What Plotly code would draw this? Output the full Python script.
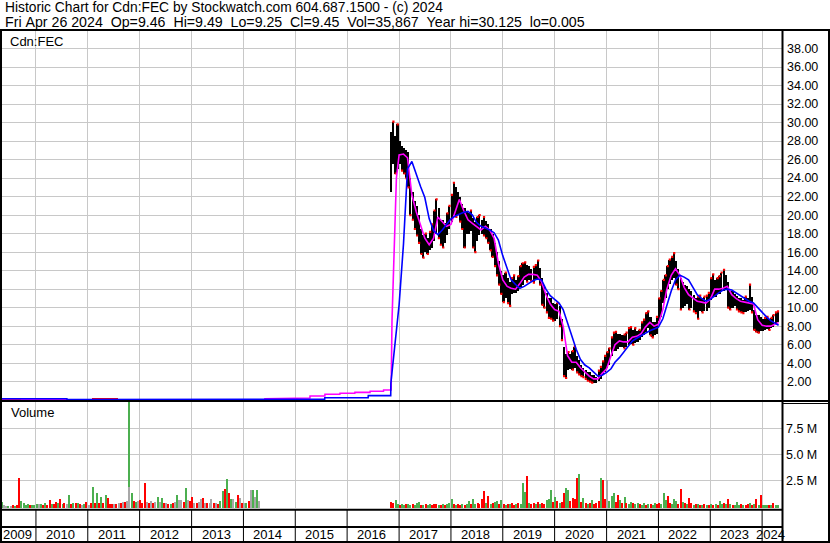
import pandas as pd
import plotly.graph_objects as go

W, H = 830, 543

# ---------------- data ----------------
years = list(range(2009, 2025))
x_start, x_end = "2009-05-07", "2024-05-20"
price_ticks = [2, 4, 6, 8, 10, 12, 14, 16, 18, 20, 22, 24, 26, 28, 30, 32, 34, 36, 38]
vol_ticks = [2.5, 5.0, 7.5]
vol_tick_text = ["2.5 M", "5.0 M", "7.5 M"]

title1 = "Historic Chart for Cdn:FEC by Stockwatch.com 604.687.1500 - (c) 2024"
title2 = "Fri Apr 26 2024  Op=9.46  Hi=9.49  Lo=9.25  Cl=9.45  Vol=35,867  Year hi=30.125  lo=0.005"
symbol = "Cdn:FEC"

# early period, quarterly price range ($), starting mid-2009
early_start = "2009-06-15"
early_high = [0.20, 0.18, 0.16, 0.15, 0.14, 0.15, 0.16, 0.22, 0.20, 0.16,
              0.14, 0.12, 0.12, 0.11, 0.10, 0.10, 0.09, 0.09, 0.08, 0.08]
early_low = [0.02, 0.02, 0.01, 0.01, 0.01, 0.01, 0.02, 0.02, 0.02, 0.01,
             0.01, 0.01, 0.01, 0.01, 0.01, 0.005, 0.005, 0.005, 0.005, 0.005]

# semi-monthly price range from Nov 2016
late_start = "2016-11-01"
price_low = [22.5, 25.5, 24.5, 25.0,
             25.5, 24.8, 24.5, 24.0, 23.0, 20.0, 19.5, 18.5, 17.8, 17.0, 15.8, 15.4,
             16.0, 15.8, 16.2, 16.5, 17.2, 18.0, 17.5, 16.8, 16.5, 17.0, 17.8, 18.5,
             19.3, 20.0, 19.8, 20.0, 19.3, 18.5, 16.5, 18.0, 18.0, 18.3, 16.5, 16.0,
             17.2, 17.8, 18.0, 17.8, 17.5, 17.0, 16.2, 15.5, 14.5, 13.5, 12.5, 11.5,
             10.6, 11.0, 10.5, 10.2, 11.5, 11.6, 11.6, 11.8, 12.2, 12.5, 13.0, 12.8,
             13.0, 12.9, 12.7, 13.0, 13.1, 12.5, 10.3, 10.0, 9.5, 8.9, 8.8, 8.6,
             8.6, 8.8, 8.0, 6.5, 2.6, 2.4, 3.3, 3.4, 3.3, 3.5, 3.0, 2.8,
             2.6, 2.5, 2.3, 2.1, 2.0, 1.9, 1.9, 1.9, 2.1, 2.3, 2.7, 3.0,
             3.5, 3.8, 4.8, 5.3, 5.3, 5.5, 5.7, 5.8, 5.6, 5.8, 6.0, 6.1,
             6.0, 6.2, 6.3, 6.5, 6.8, 7.0, 7.4, 7.8, 7.0, 6.8, 7.0, 7.2,
             8.6, 9.0, 10.5, 11.0, 12.0, 12.6, 13.0, 13.2, 12.5, 12.0, 9.8, 10.0,
             10.2, 10.4, 9.8, 10.0, 9.6, 9.4, 8.8, 9.6, 9.5, 9.6, 9.6, 10.0,
             10.8, 11.2, 11.2, 11.5, 11.5, 11.8, 11.8, 12.0, 10.0, 9.8, 10.0, 10.2,
             9.8, 9.6, 9.5, 9.4, 9.5, 9.6, 9.8, 9.5, 7.6, 7.4, 7.3, 7.5,
             7.5, 7.6, 7.7, 7.6, 7.8, 7.9, 8.2, 8.5]
price_high = [29.0, 30.1, 28.5, 29.8,
              28.0, 27.5, 27.3, 27.0, 26.8, 24.0, 22.5, 21.5, 21.0, 20.0, 18.5, 17.8,
              18.0, 17.5, 18.2, 19.0, 20.5, 21.7, 20.8, 19.5, 19.5, 19.2, 20.2, 21.0,
              22.2, 23.5, 23.0, 22.5, 22.0, 21.2, 20.8, 20.5, 20.2, 20.5, 19.7, 19.3,
              19.8, 20.0, 19.5, 19.8, 19.4, 19.0, 18.5, 18.0, 17.0, 16.0, 15.0, 14.0,
              13.5, 13.8, 13.2, 12.8, 13.2, 13.5, 13.0, 13.4, 14.5, 14.8, 14.9, 14.6,
              14.5, 14.2, 14.4, 14.6, 15.1, 14.3, 13.2, 12.5, 11.6, 11.0, 11.0, 10.5,
              10.4, 10.5, 10.2, 8.8, 5.8, 5.0, 5.2, 5.0, 5.3, 5.8, 4.8, 4.3,
              3.8, 3.5, 3.3, 3.0, 3.0, 2.7, 2.7, 2.5, 3.2, 3.6, 4.2, 4.8,
              5.2, 5.6, 6.8, 7.3, 7.4, 7.2, 7.2, 7.0, 7.1, 7.3, 7.8, 7.9,
              7.6, 7.8, 7.5, 7.6, 8.4, 8.7, 9.4, 9.6, 9.0, 8.5, 8.5, 9.0,
              11.0, 11.8, 13.0, 13.5, 14.5, 15.2, 15.5, 15.9, 15.0, 14.2, 13.2, 12.8,
              12.5, 12.3, 12.0, 11.8, 11.4, 11.0, 11.2, 11.3, 11.0, 11.2, 11.3, 11.6,
              13.2, 13.6, 13.0, 13.2, 13.4, 13.8, 14.1, 13.5, 12.8, 11.8, 11.8, 11.5,
              11.3, 11.0, 11.0, 10.8, 11.2, 11.0, 12.5, 11.2, 9.8, 9.2, 9.2, 9.0,
              8.8, 8.9, 9.0, 8.8, 8.9, 9.2, 9.5, 9.6]

# short moving average (magenta)
mag_head_dates = ["2009-05-07", "2009-09-20", "2009-09-21", "2014-05-31", "2014-06-01",
                  "2014-09-15", "2014-09-16", "2015-04-14", "2015-04-15", "2015-07-28",
                  "2015-07-29", "2015-11-11", "2015-11-12", "2016-02-24", "2016-02-25",
                  "2016-06-10", "2016-06-11", "2016-09-13", "2016-09-14", "2016-11-06",
                  "2016-11-12", "2016-12-01", "2016-12-13"]
mag_head_vals = [0.16, 0.16, 0.05, 0.05, 0.16, 0.16, 0.24, 0.24, 0.45, 0.45,
                 0.64, 0.64, 0.75, 0.75, 0.85, 0.85, 0.96, 0.96, 1.10, 1.10,
                 8.6, 18.6, 24.0]
ma_month_start = "2017-01-01"
mag_monthly = [26.5, 26.6, 26.2, 22.2, 20.4, 18.9, 17.5, 16.8, 17.5, 19.8, 19.3, 18.8,
               19.0, 20.5, 21.7, 20.5, 19.5, 19.1, 18.8, 18.4, 18.8, 18.4, 17.5, 14.8,
               13.0, 12.3, 12.1, 12.0, 12.6, 13.3, 13.6, 13.6, 13.5, 12.8, 11.4, 10.4,
               9.8, 9.6, 8.0, 4.8, 4.1, 4.1, 3.5, 3.0, 2.6, 2.3, 2.3, 2.9,
               3.4, 4.8, 6.0, 6.4, 6.3, 6.3, 6.8, 6.9, 7.2, 7.9, 8.4, 8.0,
               8.2, 9.8, 12.0, 13.5, 14.2, 13.5, 12.2, 11.4, 11.0, 10.7, 10.6, 10.5,
               10.9, 12.0, 12.0, 12.1, 12.3, 11.4, 11.0, 10.7, 10.6, 10.5, 10.4, 8.7,
               8.1, 8.0, 8.0, 8.2]
mag_last_date, mag_last_val = "2024-04-26", 8.4

# long moving average (blue)
blue_head_dates = ["2009-05-07", "2010-08-07", "2010-08-08", "2014-09-14", "2014-09-15",
                   "2015-07-27", "2015-07-28", "2016-05-28", "2016-05-29", "2016-11-03",
                   "2016-11-04", "2016-12-17"]
blue_head_vals = [0.16, 0.16, 0.06, 0.06, 0.12, 0.12, 0.27, 0.27, 0.49, 0.49, 1.83, 8.6]
blue_monthly = [10.3, 16.9, 25.0, 25.8, 24.4, 23.1, 21.9, 19.6, 18.3, 17.9, 18.4, 19.0,
                19.6, 19.9, 20.1, 20.3, 20.4, 20.0, 19.2, 18.8, 18.6, 18.4, 18.1, 17.3,
                15.6, 14.3, 13.0, 12.5, 12.1, 12.3, 12.6, 12.9, 13.1, 13.0, 12.0, 11.3,
                10.9, 10.5, 9.8, 8.4, 6.8, 5.5, 4.4, 3.8, 3.5, 3.1, 2.6, 2.7,
                3.0, 3.4, 4.1, 4.6, 5.2, 5.9, 6.4, 6.7, 7.0, 7.2, 7.5, 7.7,
                7.9, 8.8, 10.2, 11.8, 13.0, 13.5, 13.3, 13.0, 12.2, 11.4, 11.0, 10.7,
                10.9, 11.3, 11.6, 11.9, 12.0, 11.9, 11.6, 11.3, 11.0, 10.7, 10.5, 10.0,
                9.4, 9.0, 8.6, 8.3]
blue_last_date, blue_last_val = "2024-04-26", 8.1

# volume (millions of shares), semi-monthly; g = up, r = down, k = unchanged
vol_early_start = "2009-05-01"
vol_early = [0.4, 0.1, 0.08, 0.05, 0.06, 0.1, 0.08, 0.15, 2.74, 0.5,
             0.3, 0.15, 0.2, 0.1, 0.15, 0.1, 0.25, 0.2, 0.2, 0.15,
             0.3, 0.15, 0.62, 0.2, 0.2, 0.45, 0.3, 0.7, 0.2, 0.3,
             0.2, 1.1, 0.2, 0.35, 0.3, 0.3, 0.2, 0.15, 0.2, 0.4,
             0.15, 0.3, 1.9, 0.35, 1.27, 0.3, 0.9, 0.3, 1.1, 0.8,
             0.2, 0.25, 0.2, 0.2, 0.35, 0.3, 0.45, 0.4, 0.5, 11.0,
             1.3, 0.5, 0.4, 0.5, 0.6, 0.3, 2.26, 0.4, 0.3, 0.5,
             0.35, 0.45, 0.9, 0.4, 0.8, 0.3, 0.3, 0.25, 0.2, 0.3,
             0.4, 1.1, 0.6, 0.6, 0.4, 1.78, 0.6, 0.5, 0.94, 0.3,
             0.3, 0.4, 0.7, 0.8, 0.3, 0.3, 0.3, 0.7, 0.3, 0.3,
             0.2, 0.5, 1.52, 1.7, 2.64, 1.3, 0.75, 0.7, 0.4, 1.05,
             0.8, 0.3, 0.3, 0.3, 0.5, 1.6, 1.6, 0.9, 1.6, 0.5]
vol_early_dir = ("gkkgkrgrrg" "gggrgggkgr" "grrgrrgrgr" "kgrgrgrkgr" "krgrgrgrgr" "rrkrkrkrkg"
                 "grgkrrrkrk" "rkgkgrkrgr" "kgkkrgkrrk" "rkkrkrkkrk" "rggrgrgkgr" "krkgrkgkgk")
vol_late = [0.4, 0.3, 0.65, 0.2, 0.1, 0.2, 0.15, 0.2, 0.25, 0.15,
            0.2, 0.15, 0.37, 0.45, 0.15, 0.1, 0.2, 0.15, 0.2, 0.1,
            0.2, 0.25, 0.15, 0.1, 0.2, 0.15, 0.2, 0.35, 0.75, 0.2,
            0.15, 0.2, 0.1, 0.2, 0.15, 0.2, 0.5, 0.25, 0.7, 0.2,
            0.3, 0.2, 0.75, 1.49, 0.3, 1.0, 0.2, 0.3, 0.4, 0.5,
            0.2, 0.6, 0.2, 0.15, 0.25, 0.2, 0.3, 0.15, 0.2, 0.3,
            0.2, 2.26, 1.36, 2.9, 0.3, 0.2, 0.3, 0.2, 0.4, 0.2,
            0.3, 0.25, 0.6, 0.75, 1.6, 0.4, 0.9, 0.5, 0.3, 0.4,
            1.3, 1.78, 1.6, 0.5, 0.8, 0.7, 2.7, 3.1, 0.4, 0.8,
            0.3, 0.2, 0.3, 0.65, 0.2, 0.3, 0.55, 2.74, 2.5, 0.7,
            2.5, 0.5, 1.0, 1.3, 0.4, 1.1, 0.6, 0.3, 0.9, 0.3,
            0.2, 0.4, 0.3, 0.2, 0.3, 0.2, 0.15, 0.3, 0.15, 0.2,
            0.2, 0.15, 0.3, 0.2, 0.3, 0.2, 1.3, 0.6, 1.0, 0.3,
            0.2, 0.75, 0.5, 0.2, 1.7, 0.4, 0.3, 0.2, 0.8, 0.3,
            0.15, 0.2, 0.2, 0.15, 0.15, 0.2, 0.15, 0.1, 0.2, 0.15,
            0.2, 0.15, 0.55, 0.2, 0.3, 0.2, 0.75, 0.2, 0.15, 0.1,
            0.45, 0.15, 0.2, 0.1, 0.15, 0.2, 0.3, 0.1, 0.2, 0.75,
            0.15, 1.1, 0.1, 0.15, 0.15, 0.1, 0.1, 0.35, 0.1, 0.1]
vol_late_dir = ("rrggrggrgg" "rgggrgrggr" "rrgrgrgggr" "grrgrggrgg" "rrrrgrgrgg" "rgrgrgrrgr"
                "gggrgrrgrg" "rrgggrgrgr" "rggrrrrgrg" "rgrgrrrgrr" "kgggrrgrgr" "ggrggrggrg"
                "rggrrgggrr" "gggrrgrgrr" "grgrgrgrgr" "grggrgrgrg" "ggrgrrgrgr" "grgggrgrgg")
vol_extra_dates = ["2011-10-16"]
vol_extra = [1.9]
vol_extra_dir = "k"

# ---------------- styling ----------------
FONT = "Liberation Sans, Arial, sans-serif"
GRID = "#c8c8c8"
DIRCOL = {"g": "#4caf50", "r": "#ff0000", "k": "#a8a8a8"}
DAY = 86400000


def X(px):
    return px / W


def Y(py):
    return 1 - py / H


early_dates = pd.date_range(early_start, periods=len(early_high), freq=pd.DateOffset(months=3))
late_dates = pd.date_range(late_start, periods=len(price_high), freq="SMS") + pd.Timedelta(days=7)
mag_dates = list(pd.to_datetime(mag_head_dates)) + list(
    pd.date_range(ma_month_start, periods=len(mag_monthly), freq="MS")) + [pd.Timestamp(mag_last_date)]
mag_vals = mag_head_vals + mag_monthly + [mag_last_val]
blue_dates = list(pd.to_datetime(blue_head_dates)) + list(
    pd.date_range(ma_month_start, periods=len(blue_monthly), freq="MS")) + [pd.Timestamp(blue_last_date)]
blue_vals = blue_head_vals + blue_monthly + [blue_last_val]

vdates = (list(pd.date_range(vol_early_start, periods=len(vol_early), freq="SMS") + pd.Timedelta(days=7))
          + list(pd.date_range(late_start, periods=len(vol_late), freq="SMS") + pd.Timedelta(days=7))
          + list(pd.to_datetime(vol_extra_dates)))
vvals = vol_early + vol_late + vol_extra
vdirs = vol_early_dir + vol_late_dir + vol_extra_dir
VBASE = -0.19

fig = go.Figure()

# early price bars (red, near zero)
fig.add_trace(go.Bar(x=early_dates, y=[h - l for h, l in zip(early_high, early_low)], base=early_low,
                     width=92 * DAY, marker=dict(color="#ff0000", line=dict(width=0)),
                     xaxis="x", yaxis="y", hoverinfo="skip"))
# price range bars
fig.add_trace(go.Bar(x=late_dates, y=[h - l for h, l in zip(price_high, price_low)], base=price_low,
                     width=12 * DAY, marker=dict(color="#000000", line=dict(width=0)),
                     xaxis="x", yaxis="y", hoverinfo="skip"))
# red ticks at new extremes
rx, ry = [], []
for i in range(1, len(price_low)):
    if price_low[i] < price_low[i - 1]:
        rx.append(late_dates[i]); ry.append(price_low[i])
    if price_high[i] > price_high[i - 1]:
        rx.append(late_dates[i]); ry.append(price_high[i])
fig.add_trace(go.Scatter(x=rx, y=ry, mode="markers", xaxis="x", yaxis="y",
                         marker=dict(symbol="square", size=2.2, color="#ff0000", line=dict(width=0)),
                         hoverinfo="skip"))
# moving averages
fig.add_trace(go.Scatter(x=mag_dates, y=mag_vals, mode="lines", xaxis="x", yaxis="y",
                         line=dict(color="#ff00ff", width=1.6), hoverinfo="skip"))
fig.add_trace(go.Scatter(x=blue_dates, y=blue_vals, mode="lines", xaxis="x", yaxis="y",
                         line=dict(color="#0000ff", width=1.6), hoverinfo="skip"))
# volume
fig.add_trace(go.Bar(x=vdates, y=[v - VBASE for v in vvals], base=VBASE, width=9 * DAY,
                     marker=dict(color=[DIRCOL[c] for c in vdirs], line=dict(width=0)),
                     xaxis="x2", yaxis="y2", hoverinfo="skip"))

year_starts = [f"{y}-01-01" for y in years[1:]]
x_dom = [X(2), X(782)]
tickfont = dict(family=FONT, size=12.5, color="#000000")

fig.update_layout(
    width=W, height=H, margin=dict(l=0, r=0, t=0, b=0),
    paper_bgcolor="white", plot_bgcolor="white", showlegend=False,
    barmode="overlay", bargap=0,
    xaxis=dict(type="date", domain=x_dom, range=[x_start, x_end], anchor="y",
               tickvals=year_starts, showticklabels=False, ticks="",
               showgrid=True, gridcolor=GRID, gridwidth=1, zeroline=False, showline=False),
    yaxis=dict(domain=[Y(400.2), Y(31)], range=[0, 39.9], anchor="x", side="right",
               tickvals=price_ticks, tickformat=".2f", ticks="", tickfont=tickfont,
               ticklabelstandoff=4,
               showgrid=True, gridcolor=GRID, gridwidth=1, zeroline=False, showline=False),
    xaxis2=dict(type="date", domain=x_dom, matches="x", anchor="y2",
                tickvals=year_starts, showticklabels=False, ticks="",
                showgrid=True, gridcolor=GRID, gridwidth=1, zeroline=False, showline=False),
    yaxis2=dict(domain=[Y(508.4), Y(402)], range=[VBASE, 10.03], anchor="x2", side="right",
                tickvals=vol_ticks, ticktext=vol_tick_text, ticks="", tickfont=tickfont,
                ticklabelstandoff=3,
                showgrid=True, gridcolor=GRID, gridwidth=1, zeroline=False, showline=False),
)

# frame lines
def line(x0, y0, x1, y1, w=2, xref="paper"):
    return dict(type="line", xref=xref, yref="paper", x0=x0, y0=y0, x1=x1, y1=y1,
                line=dict(color="#000000", width=w), layer="above")

shapes = [
    line(X(0), Y(30), X(830), Y(30)),
    line(X(1), Y(29), X(1), Y(543)),
    line(X(829), Y(29), X(829), Y(543)),
    line(X(782.5), Y(29), X(782.5), Y(543)),
    line(X(0), Y(401), X(830), Y(401)),
    line(X(783), Y(403.5), X(830), Y(403.5), w=1),
    line(X(0), Y(509.7), X(782.5), Y(509.7)),
    line(X(0), Y(527), X(782.5), Y(527)),
    line(X(0), Y(542), X(830), Y(542)),
]
for ys in year_starts:
    shapes.append(line(ys, Y(510), ys, Y(541), w=1, xref="x2"))
fig.update_layout(shapes=shapes)

# texts
annotations = []
for text, px, py, fs in [(title1, 3, 8, 13.8), (title2, 3, 22, 14.2), (symbol, 8, 41.5, 13), ("Volume", 9, 413, 13)]:
    annotations.append(dict(text=text.replace(" ", "\u00a0"), x=X(px), y=Y(py), xref="paper", yref="paper",
                            xanchor="left", yanchor="middle", showarrow=False,
                            font=dict(family=FONT, size=fs, color="#000000")))
rs, re_ = pd.Timestamp(x_start), pd.Timestamp(x_end)
for y in years:
    a = max(pd.Timestamp(f"{y}-01-01"), rs)
    b = min(pd.Timestamp(f"{y + 1}-01-01"), re_)
    mid = a + (b - a) / 2
    annotations.append(dict(text=str(y), x=mid, y=Y(534.5), xref="x2", yref="paper",
                            xanchor="center", yanchor="middle", showarrow=False, xshift=-1.5,
                            font=dict(family=FONT, size=13, color="#000000")))
fig.update_layout(annotations=annotations)

fig.write_html("out.html", config={"displayModeBar": False},
               post_script="document.body.style.margin='0';document.body.style.overflow='hidden';")
